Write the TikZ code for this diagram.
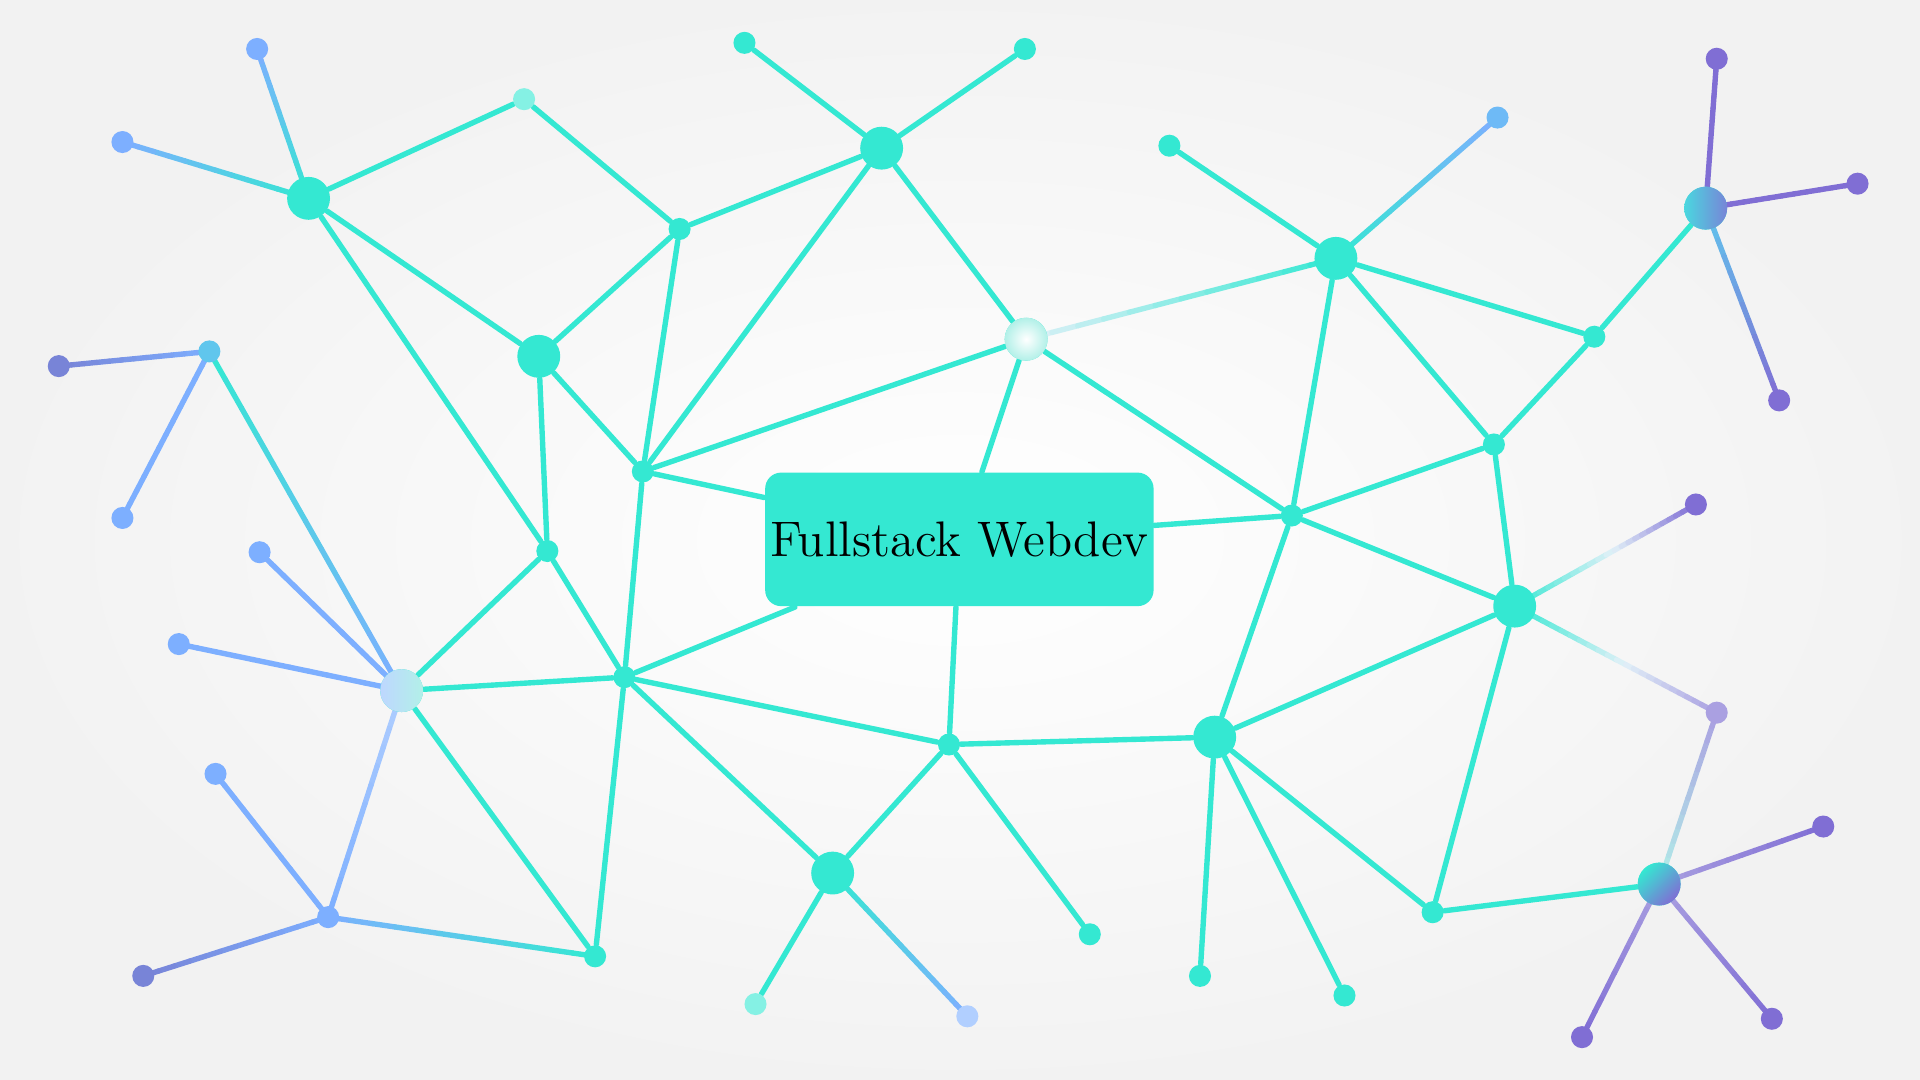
\documentclass[tikz,border=0pt]{standalone}
\usepackage{xcolor}
\usepackage{tikz}
\usetikzlibrary{calc}
\definecolor{netturq}{RGB}{52,232,210}
\definecolor{netblue}{RGB}{125,175,255}
\definecolor{netindigo}{RGB}{120,132,215}
\definecolor{netpurple}{RGB}{128,110,212}
\definecolor{netlilac}{RGB}{170,160,225}
\definecolor{netpale}{RGB}{178,240,232}
\definecolor{nethaze}{RGB}{225,240,248}
\pgfdeclarelayer{back}
\pgfdeclarelayer{edges}
\pgfsetlayers{back,edges,main}

\newcommand{\gradedge}[4]{%
  \foreach \k in {1,...,12}{
    \pgfmathsetmacro{\pa}{(\k-1)/12}
    \pgfmathsetmacro{\pb}{\k/12}
    \pgfmathsetmacro{\pc}{100-(\k-0.5)/12*100}
    \draw[edge, draw=#3!\pc!#4] ($(#1)!\pa!(#2)$) -- ($(#1)!\pb!(#2)$);
  }}

\begin{document}
\begin{tikzpicture}[
    x=0.01cm, y=-0.01cm,
    bignode/.style={circle, fill=netturq, minimum size=0.35cm, inner sep=0pt},
    dotnode/.style={circle, fill=netturq, minimum size=0.18cm, inner sep=0pt},
    edge/.style={line width=1.25pt, line cap=round},
    hubbox/.style={rectangle, rounded corners=0.13cm, fill=netturq, inner sep=1pt, minimum width=3.17cm, minimum height=1.09cm, font=\fontsize{11.6}{14}\selectfont}
]
\begin{pgfonlayer}{back}
\fill[inner color=white, outer color=black!5] (0,0) rectangle (1568,882);
\end{pgfonlayer}

\node[hubbox] (hub) at (783.5,440.5) {Fullstack Webdev};

\node[bignode] (n1) at (252,162) {};
\node[dotnode, fill=netblue] (n2) at (210,40) {};
\node[dotnode, fill=netblue] (n3) at (100,116) {};
\node[dotnode, fill=netturq!60!white] (n4) at (428,81) {};
\node[dotnode] (n5) at (555,187) {};
\node[bignode] (n6) at (720,121) {};
\node[dotnode] (n7) at (608,35) {};
\node[dotnode] (n8) at (837,40) {};
\node[bignode] (n9) at (440,291) {};
\node[bignode, inner color=white, outer color=netpale] (n10) at (838,277) {};
\node[dotnode] (n11) at (525,385) {};
\node[dotnode, fill=netturq!40!netblue] (n12) at (171,287) {};
\node[dotnode, fill=netindigo] (n13) at (48,299) {};
\node[dotnode, fill=netblue] (n14) at (100,423) {};
\node[dotnode] (n15) at (447,450) {};
\node[dotnode, fill=netblue] (n16) at (212,451) {};
\node[dotnode, fill=netblue] (n17) at (146,526) {};
\node[bignode, left color=netblue!50!white, right color=netpale] (n18) at (328,564) {};
\node[dotnode] (n19) at (510,553) {};
\node[dotnode, fill=netblue] (n20) at (176,632) {};
\node[dotnode, fill=netblue] (n21) at (268,749) {};
\node[dotnode, fill=netindigo] (n22) at (117,797) {};
\node[dotnode] (n23) at (486,781) {};
\node[bignode] (n24) at (680,713) {};
\node[dotnode, fill=netturq!60!white] (n25) at (617,820) {};
\node[dotnode, fill=netblue!60!white] (n26) at (790,830) {};
\node[dotnode] (n27) at (775,608) {};
\node[dotnode] (n28) at (890,763) {};
\node[bignode] (n29) at (992,602) {};
\node[dotnode] (n30) at (980,797) {};
\node[dotnode] (n31) at (1098,813) {};
\node[dotnode] (n32) at (1170,745) {};
\node[bignode, top color=netturq, bottom color=netpurple, shading angle=45] (n33) at (1355,722) {};
\node[dotnode, fill=netpurple] (n34) at (1292,847) {};
\node[dotnode, fill=netpurple] (n35) at (1447,832) {};
\node[dotnode, fill=netpurple] (n36) at (1489,675) {};
\node[dotnode, fill=netlilac] (n37) at (1402,582) {};
\node[bignode] (n38) at (1237,495) {};
\node[dotnode, fill=netpurple] (n39) at (1385,412) {};
\node[dotnode] (n40) at (1055,421) {};
\node[dotnode] (n41) at (1220,363) {};
\node[dotnode] (n42) at (1302,275) {};
\node[bignode] (n43) at (1091,211) {};
\node[dotnode] (n44) at (955,119) {};
\node[dotnode, fill=netblue!80!netturq] (n45) at (1223,96) {};
\node[bignode, left color=netturq!70!netblue, right color=netindigo] (n46) at (1393,170) {};
\node[dotnode, fill=netpurple] (n47) at (1402,48) {};
\node[dotnode, fill=netpurple] (n48) at (1517,150) {};
\node[dotnode, fill=netpurple] (n49) at (1453,327) {};

\begin{pgfonlayer}{edges}
\foreach \i/\j in {1/4,1/9,1/15,4/5,5/6,5/9,5/11,6/7,6/8,6/11,6/10,9/11,9/15,11/10,11/19,15/19,15/18,19/18,19/23,18/23,19/24,19/27,24/27,24/25,27/28,27/29,29/40,29/38,29/30,29/31,29/32,32/38,32/33,38/41,38/40,40/41,40/43,43/44,43/41,43/42,42/41,42/46,10/40}
  \draw[edge, netturq] (n\i) -- (n\j);
\foreach \i in {11,10,19,27,40}
  \draw[edge, netturq] (n\i) -- (hub);
\foreach \i/\j/\ca/\cb in {1/2/netturq/netblue,1/3/netturq/netblue,12/13/netblue/netindigo,12/14/netblue/netblue,12/18/netturq/netblue,18/16/netblue/netblue,18/17/netblue/netblue,18/21/netblue!60!white/netblue,21/20/netblue/netblue,21/22/netblue/netindigo,21/23/netblue/netturq,24/26/netturq/netblue,43/45/netturq/netblue,46/47/netpurple/netpurple,46/48/netpurple/netpurple,46/49/netblue!60!netturq/netpurple,33/34/netlilac/netpurple,33/35/netlilac/netpurple,33/36/netlilac/netpurple,33/37/netpale/netlilac,10/43/nethaze/netturq}
  \gradedge{n\i}{n\j}{\ca}{\cb};
\coordinate (m1) at ($(n38)!0.55!(n37)$);
\coordinate (m2) at ($(n38)!0.55!(n39)$);
\gradedge{n38}{m1}{netturq}{nethaze}
\gradedge{m1}{n37}{nethaze}{netlilac}
\gradedge{n38}{m2}{netturq}{nethaze}
\gradedge{m2}{n39}{nethaze}{netpurple}
\end{pgfonlayer}
\end{tikzpicture}
\end{document}
